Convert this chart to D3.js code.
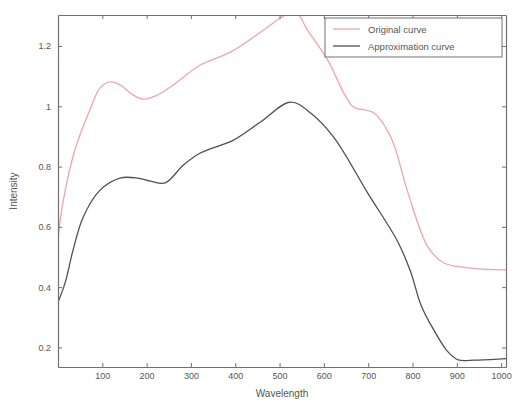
<!DOCTYPE html>
<html>
<head>
<meta charset="utf-8">
<script src="https://cdn.jsdelivr.net/npm/d3@7/dist/d3.min.js"></script>
<style>
  html, body { margin: 0; padding: 0; background: #fff; }
  svg { display: block; }
  text { font-family: "Liberation Sans", Arial, sans-serif; fill: #555; }
</style>
</head>
<body>
<svg id="chart" width="512" height="405"></svg>
<script>
// ---- data ----
const originalX = [0, 11, 38, 72, 95, 118, 140, 170, 192, 224, 260, 321, 389, 457, 502, 525, 545, 560, 610, 645, 667, 713, 751, 790, 835, 871, 925, 1011];
const originalY = [0.56, 0.68, 0.855, 0.988, 1.061, 1.081, 1.071, 1.037, 1.024, 1.037, 1.071, 1.137, 1.18, 1.246, 1.293, 1.31, 1.30, 1.26, 1.15, 1.044, 0.998, 0.978, 0.898, 0.712, 0.533, 0.48, 0.464, 0.457];
const approxX = [0, 16, 34, 57, 95, 140, 179, 208, 242, 283, 321, 396, 457, 525, 570, 622, 699, 767, 796, 819, 848, 880, 903, 940, 1000, 1011];
const approxY = [0.35, 0.414, 0.523, 0.633, 0.722, 0.762, 0.762, 0.752, 0.746, 0.805, 0.845, 0.888, 0.948, 1.014, 0.978, 0.898, 0.712, 0.55, 0.45, 0.341, 0.258, 0.185, 0.159, 0.158, 0.162, 0.163];
const xTicks = [100, 200, 300, 400, 500, 600, 700, 800, 900, 1000];
const yTicks = [0.2, 0.4, 0.6, 0.8, 1, 1.2];
const seriesNames = ["Original curve", "Approximation curve"];
const seriesColors = ["#f0a4a4", "#505050"];

(function () {
// ---- layout ----
const svg = d3.select("#chart");
const pLeft = 58, pRight = 506, pTop = 15, pBottom = 367;
const x = d3.scaleLinear().domain([0, 1011]).range([pLeft, pRight]);
const y = d3.scaleLinear().domain([0.135, 1.303]).range([pBottom, pTop]);

svg.append("defs").append("clipPath").attr("id", "plotclip")
  .append("rect").attr("x", pLeft).attr("y", pTop).attr("width", pRight - pLeft).attr("height", pBottom - pTop);

const line = d3.line().x(d => x(d[0])).y(d => y(d[1])).curve(d3.curveCatmullRom.alpha(0.5));

const series = [
  d3.zip(originalX, originalY),
  d3.zip(approxX, approxY)
];

const g = svg.append("g").attr("clip-path", "url(#plotclip)");
series.forEach((s, i) => {
  g.append("path").datum(s)
    .attr("d", line)
    .attr("fill", "none")
    .attr("stroke", seriesColors[i])
    .attr("stroke-width", 1.3);
});

// ---- axes (MATLAB style: box, inward ticks on all sides) ----
const axisColor = "#707070";
const bottomAxis = d3.axisBottom(x).tickValues(xTicks).tickSizeInner(-4).tickSizeOuter(0).tickPadding(6).tickFormat(d3.format("d"));
const topAxis = d3.axisTop(x).tickValues(xTicks).tickSizeInner(-4).tickSizeOuter(0).tickFormat("");
const leftAxis = d3.axisLeft(y).tickValues(yTicks).tickSizeInner(-4).tickSizeOuter(0).tickPadding(7).tickFormat(d => d3.format("")(d));
const rightAxis = d3.axisRight(y).tickValues(yTicks).tickSizeInner(-4).tickSizeOuter(0).tickFormat("");

function styleAxis(sel) {
  sel.select(".domain").attr("stroke", axisColor).attr("stroke-width", 1.2);
  sel.selectAll(".tick line").attr("stroke", axisColor);
  sel.selectAll(".tick text").attr("fill", "#555").style("font-size", "9px").style("font-family", "'Liberation Sans', Arial, sans-serif");
}
svg.append("g").attr("transform", `translate(0,${pBottom})`).call(bottomAxis).call(styleAxis);
svg.append("g").attr("transform", `translate(0,${pTop})`).call(topAxis).call(styleAxis);
svg.append("g").attr("transform", `translate(${pLeft},0)`).call(leftAxis).call(styleAxis);
svg.append("g").attr("transform", `translate(${pRight},0)`).call(rightAxis).call(styleAxis);

// axis titles
svg.append("text").attr("x", (pLeft + pRight) / 2).attr("y", 397)
  .attr("text-anchor", "middle").style("font-size", "10px").text("Wavelength");
svg.append("text").attr("transform", `translate(17,${(pTop + pBottom) / 2}) rotate(-90)`)
  .attr("text-anchor", "middle").style("font-size", "10px").text("Intensity");

// ---- legend ----
const lg = svg.append("g");
lg.append("rect").attr("x", 325).attr("y", 18).attr("width", 177).attr("height", 39)
  .attr("fill", "#fff").attr("stroke", axisColor).attr("stroke-width", 1);
seriesNames.forEach((name, i) => {
  const yy = 29 + i * 17;
  lg.append("line").attr("x1", 333).attr("x2", 360).attr("y1", yy).attr("y2", yy)
    .attr("stroke", seriesColors[i]).attr("stroke-width", 1.3);
  lg.append("text").attr("x", 368).attr("y", yy + 3.5).style("font-size", "9.5px").text(name);
});
})();
</script>
</body>
</html>
